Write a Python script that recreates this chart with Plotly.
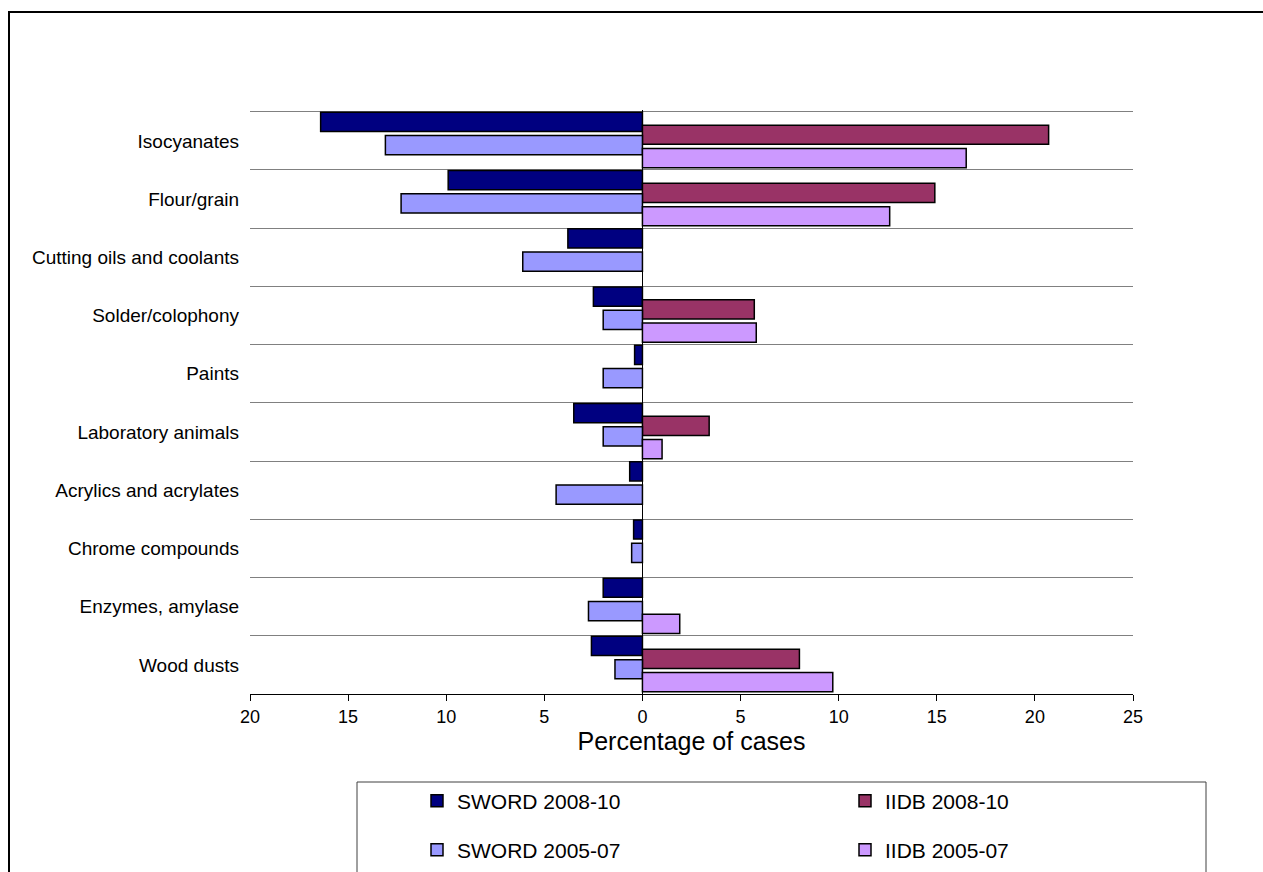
import plotly.graph_objects as go

categories = ["Isocyanates", "Flour/grain", "Cutting oils and coolants", "Solder/colophony",
              "Paints", "Laboratory animals", "Acrylics and acrylates", "Chrome compounds",
              "Enzymes, amylase", "Wood dusts"]
sword_2008_10 = [16.4, 9.9, 3.8, 2.5, 0.4, 3.5, 0.65, 0.45, 2.0, 2.6]
sword_2005_07 = [13.1, 12.3, 6.1, 2.0, 2.0, 2.0, 4.4, 0.55, 2.75, 1.4]
iidb_2008_10 = [20.7, 14.9, None, 5.7, None, 3.4, None, None, None, 8.0]
iidb_2005_07 = [16.5, 12.6, None, 5.8, None, 1.0, None, None, 1.9, 9.7]
x_ticks = [-20, -15, -10, -5, 0, 5, 10, 15, 20, 25]

FONT = "Arial, Liberation Sans, sans-serif"
centers = [i + 0.5 for i in range(len(categories))]

def neg(vals):
    return [None if v is None else -v for v in vals]

series = [
    ("SWORD 2008-10", neg(sword_2008_10), "#000080", -0.49, "legend"),
    ("IIDB 2008-10", iidb_2008_10, "#993366", -0.27, "legend"),
    ("SWORD 2005-07", neg(sword_2005_07), "#9999FF", -0.09, "legend2"),
    ("IIDB 2005-07", iidb_2005_07, "#CC99FF", 0.13, "legend2"),
]

fig = go.Figure()
for name, vals, color, off, leg in series:
    fig.add_trace(go.Bar(
        name=name, x=vals, y=centers, orientation="h",
        width=0.33, offset=off,
        marker=dict(color=color, line=dict(color="black", width=1.5)),
        legend=leg,
        customdata=[None if v is None else abs(v) for v in vals],
        hovertemplate="%{customdata}<extra>" + name + "</extra>",
    ))

W, H = 1263, 872
ml, mr, mt, mb = 250, 130, 110, 178
pw, ph = W - ml - mr, H - mt - mb

def px(x):
    return (x - ml) / pw

def py(y):
    return (H - mb - y) / ph

fig.update_layout(
    width=W, height=H,
    margin=dict(l=ml, r=mr, t=mt, b=mb, autoexpand=False),
    paper_bgcolor="white", plot_bgcolor="white",
    barmode="overlay",
    font=dict(family=FONT, color="black", size=18),
    showlegend=True,
    legend=dict(orientation="h", x=px(417), y=py(801), xanchor="left", yanchor="middle",
                entrywidth=383, font=dict(size=21, family=FONT), bgcolor="rgba(0,0,0,0)",
                traceorder="normal"),
    legend2=dict(orientation="h", x=px(417), y=py(850), xanchor="left", yanchor="middle",
                 entrywidth=383, font=dict(size=21, family=FONT), bgcolor="rgba(0,0,0,0)",
                 traceorder="normal"),
    xaxis=dict(
        range=[-20, 25], tickvals=x_ticks, ticktext=[str(abs(t)) for t in x_ticks],
        showgrid=False, zeroline=True, zerolinecolor="black", zerolinewidth=1,
        showline=True, linecolor="black", linewidth=1,
        ticks="outside", ticklen=6, tickcolor="black", tickwidth=1,
        tickfont=dict(size=18, family=FONT),
        title=dict(text="Percentage of cases", font=dict(size=25, family=FONT), standoff=6),
    ),
    yaxis=dict(
        range=[len(categories), -0.03], tickvals=centers, ticktext=categories,
        showgrid=False, zeroline=False, showline=False, ticks="",
        ticklabelstandoff=10,
        tickfont=dict(size=19, family=FONT),
        minor=dict(tickmode="linear", tick0=0, dtick=1, showgrid=True,
                   gridcolor="#808080", gridwidth=1, ticks=""),
    ),
    shapes=[
        dict(type="rect", xref="paper", yref="paper",
             x0=px(9), x1=px(1300), y0=py(900), y1=py(12),
             line=dict(color="black", width=2), fillcolor="rgba(0,0,0,0)", layer="below"),
        dict(type="rect", xref="paper", yref="paper",
             x0=px(357), x1=px(1206), y0=py(900), y1=py(782),
             line=dict(color="#404040", width=1), fillcolor="rgba(0,0,0,0)", layer="below"),
    ],
)

fig.write_html("out.html", config={"displayModeBar": False},
               post_script="document.body.style.margin='0';document.body.style.overflow='hidden';")
